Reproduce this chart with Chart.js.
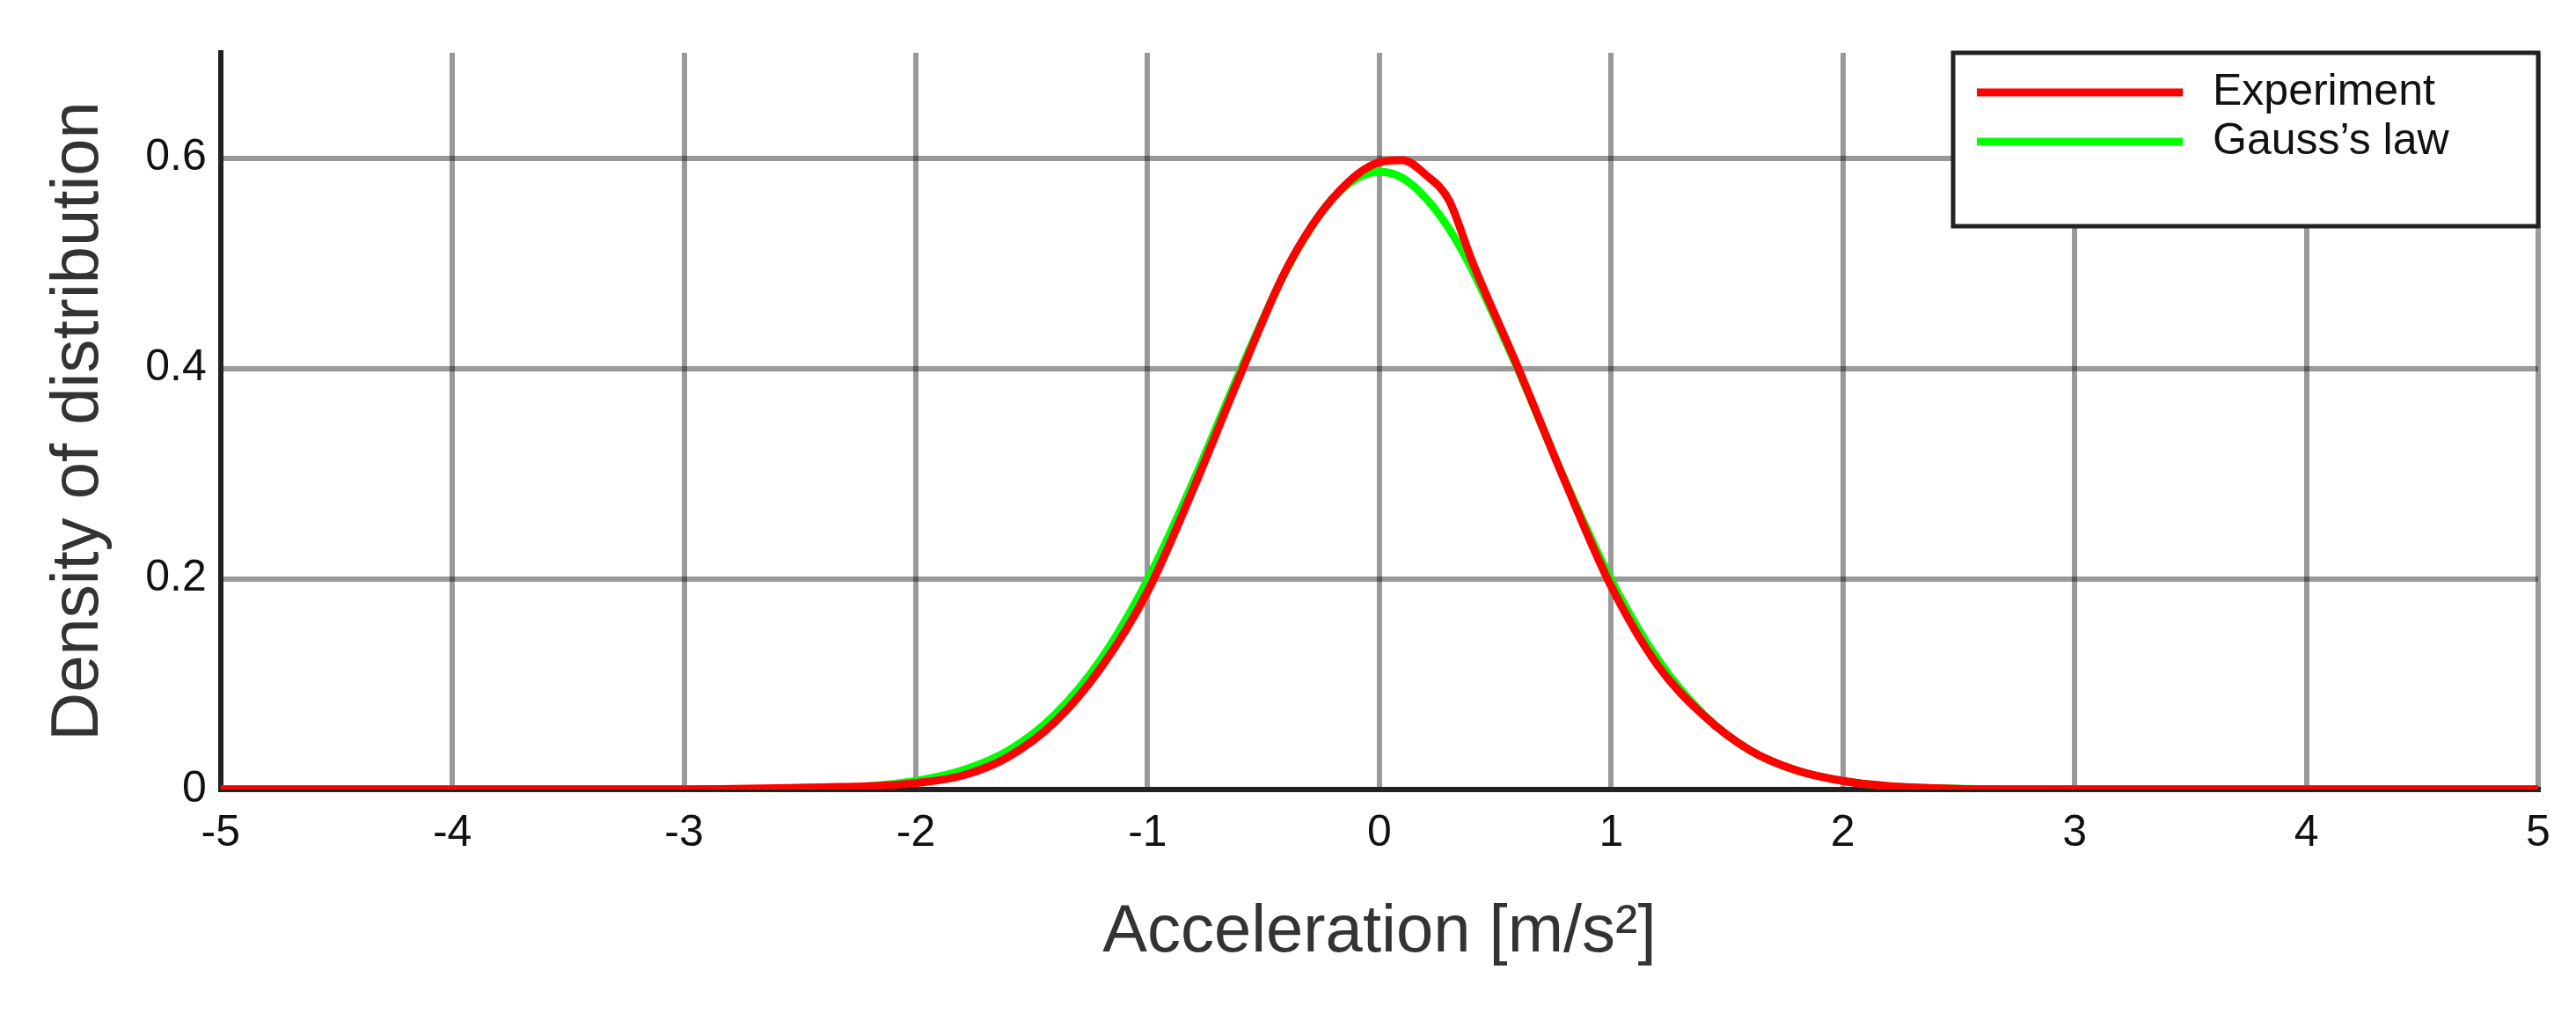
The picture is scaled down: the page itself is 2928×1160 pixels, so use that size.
<!DOCTYPE html>
<html>
<head>
<meta charset="utf-8">
<script src="https://cdn.jsdelivr.net/npm/chart.js@4"></script>
<style>
  html, body { margin: 0; padding: 0; background: #fff; }
  #wrap { width: 2928px; height: 1160px; }
</style>
</head>
<body>
<div id="wrap"><canvas id="myChart"></canvas></div>
<script>
// x positions (m/s^2)
const xValues = [-5, -4, -3, -2.6, -2.4, -2.2, -2.0, -1.8, -1.6, -1.4, -1.2, -1.0, -0.8, -0.6, -0.4, -0.2,
	0, 0.1, 0.2, 0.3, 0.4, 0.6, 0.8, 1.0, 1.2, 1.4, 1.6, 1.8, 2.0, 2.2, 2.4, 2.6, 3, 4, 5];
const expValues = [0, 0, 0, 0.001, 0.002, 0.003, 0.006, 0.013, 0.031, 0.064, 0.116, 0.188, 0.287, 0.394, 0.495, 0.562,
	0.596, 0.598, 0.584, 0.560, 0.502, 0.400, 0.293, 0.193, 0.118, 0.070, 0.037, 0.018, 0.008, 0.003, 0.001, 0, 0, 0, 0];
const gaussValues = [0, 0, 0, 0.0003, 0.001, 0.003, 0.008, 0.018, 0.037, 0.071, 0.124, 0.199, 0.294, 0.398, 0.494, 0.562,
	0.587, 0.581, 0.562, 0.533, 0.494, 0.398, 0.294, 0.199, 0.124, 0.071, 0.037, 0.018, 0.008, 0.003, 0.001, 0.0003, 0, 0, 0];
const xTicks = [-5, -4, -3, -2, -1, 0, 1, 2, 3, 4, 5];
const yTicks = [0, 0.2, 0.4, 0.6];

const fontFam = "'Liberation Sans Narrow', 'Liberation Sans', Arial, sans-serif";

function toPoints(ys) {
	return xValues.map((x, i) => ({ x: x, y: ys[i] }));
}

// legend box drawn inside the plot, top right
const boxLegend = {
	id: "boxLegend",
	afterDraw(chart) {
		const ctx = chart.ctx;
		const a = chart.chartArea;
		const w = 665, h = 197;
		const x0 = a.right - w, y0 = a.top;
		ctx.save();
		ctx.fillStyle = "#fff";
		ctx.fillRect(x0, y0, w, h);
		ctx.strokeStyle = "#222";
		ctx.lineWidth = 5;
		ctx.strokeRect(x0, y0, w, h);
		chart.data.datasets.forEach((ds, i) => {
			const y = y0 + 45 + i * 56;
			ctx.strokeStyle = ds.borderColor;
			ctx.lineWidth = 9;
			ctx.beginPath();
			ctx.moveTo(x0 + 27, y);
			ctx.lineTo(x0 + 261, y);
			ctx.stroke();
			ctx.fillStyle = "#111";
			ctx.font = "50px " + fontFam;
			ctx.textBaseline = "middle";
			ctx.fillText(ds.label, x0 + 295, y);
		});
		ctx.restore();
	},
};

const ctx = document.getElementById("myChart").getContext("2d");
new Chart(ctx, {
	type: "line",
	data: {
		datasets: [
			{ label: "Experiment", data: toPoints(expValues), borderColor: "#ff0000", borderWidth: 9, pointRadius: 0, cubicInterpolationMode: "monotone" },
			{ label: "Gauss\u2019s law", data: toPoints(gaussValues), borderColor: "#00ff00", borderWidth: 9, pointRadius: 0, cubicInterpolationMode: "monotone" },
		],
	},
	options: {
		responsive: true,
		maintainAspectRatio: false,
		animation: false,
		layout: { padding: { left: 40, right: 43, top: 60, bottom: 50 } },
		plugins: { legend: { display: false }, tooltip: { enabled: false } },
		scales: {
			x: {
				type: "linear",
				min: -5,
				max: 5,
				afterBuildTicks: (axis) => { axis.ticks = xTicks.map((v) => ({ value: v })); },
				grid: { color: "rgba(0,0,0,0.4)", lineWidth: 6, drawTicks: false },
				border: { color: "#222", width: 6 },
				ticks: { color: "#111", font: { size: 50, family: fontFam }, padding: 20 },
				title: { display: true, text: "Acceleration [m/s\u00b2]", color: "#333", font: { size: 76, family: fontFam }, padding: { top: 18 } },
			},
			y: {
				min: 0,
				max: 0.7,
				afterBuildTicks: (axis) => { axis.ticks = yTicks.map((v) => ({ value: v })); },
				grid: { color: "rgba(0,0,0,0.4)", lineWidth: 6, drawTicks: false },
				border: { color: "#222", width: 6 },
				ticks: { color: "#111", font: { size: 50, family: fontFam }, padding: 16 },
				title: { display: true, text: "Density of distribution", color: "#333", font: { size: 76, family: fontFam }, padding: { bottom: 14 } },
			},
		},
	},
	plugins: [boxLegend],
});
</script>
</body>
</html>
